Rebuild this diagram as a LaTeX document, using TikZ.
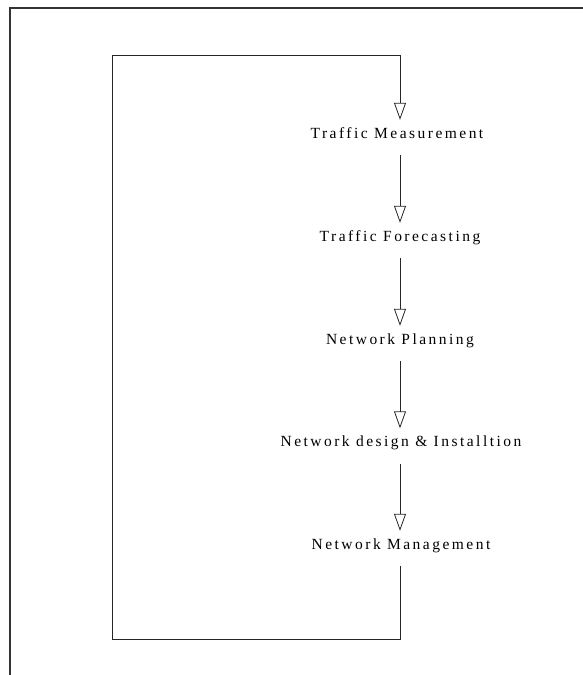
\documentclass[tikz,border=0pt]{standalone}
\usepackage{fontspec}
\setmainfont{Liberation Serif}
\newfontfamily\labfont[LetterSpace=16]{Liberation Serif}
\usetikzlibrary{arrows.meta}
\begin{document}
\begin{tikzpicture}[x=1pt,y=-1pt,
  lab/.style={inner sep=0pt, text height=9pt, text depth=3pt, anchor=base,
    font=\labfont\fontsize{15.5}{18}\selectfont},
  ln/.style={line width=0.9pt, draw=black!85},
  arr/.style={ln, -{Triangle[open, length=17pt, width=12pt, line width=0.8pt]}},
  frame/.style={line width=1.1pt, draw=black!80}]
\useasboundingbox (0,0) rectangle (583,675);
% outer frame
\coordinate (ftl) at (10,8);
\coordinate (ftr) at (583,8);
\coordinate (fbl) at (10,675);
\draw[frame] (ftr) -- (ftl) -- (fbl);
% labels
\node[lab] (T1) at (397,138) {Traffic Measurement};
\node[lab] (T2) at (400,241) {Traffic Forecasting};
\node[lab] (T3) at (400,344) {Network Planning};
\node[lab] (T4) at (401,446.5) {Network design \& Installtion};
\node[lab] (T5) at (401,549) {Network Management};
% loop corners
\coordinate (ltl) at (112,55);
\coordinate (lbl) at (112,639);
\coordinate (ax) at (400,0);
% connectors
\draw[ln] ([yshift=-14pt]T5.south -| ax) -- (ax |- lbl) -- (lbl) -- (ltl) -- (ax |- ltl) -- ([yshift=26pt]T1.north -| ax);
\draw[arr] ([yshift=27pt]T1.north -| ax) -- ([yshift=9pt]T1.north -| ax);
\draw[arr] ([yshift=-14pt]T1.south -| ax) -- ([yshift=9pt]T2.north -| ax);
\draw[arr] ([yshift=-14pt]T2.south -| ax) -- ([yshift=9pt]T3.north -| ax);
\draw[arr] ([yshift=-14pt]T3.south -| ax) -- ([yshift=9pt]T4.north -| ax);
\draw[arr] ([yshift=-14pt]T4.south -| ax) -- ([yshift=9pt]T5.north -| ax);
\end{tikzpicture}
\end{document}
